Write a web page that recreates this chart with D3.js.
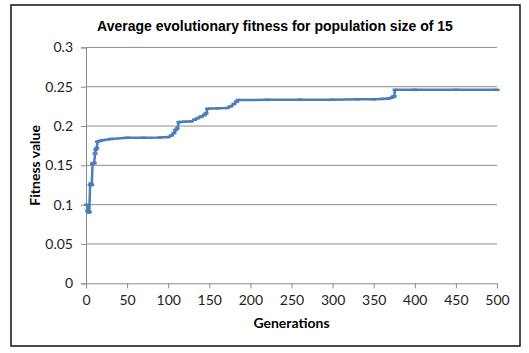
<html>
<head>
<script src="https://d3js.org/d3.v7.min.js"></script>
<style>
  body { margin: 0; background: white; }
  .tick text { font: 14px Lato, sans-serif; fill: #222; }
</style>
</head>
<body>
<svg width="529" height="353"></svg>
<script>
  // values
  var generations = [1, 2, 3, 4, 5, 6, 7, 8, 9, 10, 11, 12, 13, 14, 16, 20, 30, 50, 70, 90,
    100, 104, 107, 109, 111, 113, 120, 128, 132, 136, 140, 144, 146, 148, 160, 172, 176, 180,
    183, 185, 220, 260, 300, 330, 350, 360, 368, 372, 374, 375, 376, 400, 450, 500];
  var fitness = [0.100, 0.092, 0.090, 0.091, 0.125, 0.127, 0.125, 0.152, 0.153, 0.153, 0.165,
    0.170, 0.172, 0.180, 0.181, 0.182, 0.1835, 0.185, 0.185, 0.1855,
    0.186, 0.188, 0.191, 0.195, 0.197, 0.205, 0.2055, 0.206, 0.208, 0.210, 0.212, 0.214, 0.216,
    0.222, 0.2225, 0.223, 0.225, 0.228, 0.231, 0.233, 0.2333, 0.2335, 0.2335, 0.234, 0.234,
    0.2345, 0.235, 0.236, 0.2375, 0.238, 0.246, 0.246, 0.246, 0.246];
  var xTicks = [0, 50, 100, 150, 200, 250, 300, 350, 400, 450, 500];
  var yTicks = [0, 0.05, 0.1, 0.15, 0.2, 0.25, 0.3];

  var svg = d3.select("svg");
  var plotL = 86, plotR = 497, plotT = 47.4, plotB = 283.3;

  var xs = d3.scaleLinear().domain([0, 500]).range([plotL, plotR]);
  var ys = d3.scaleLinear().domain([0, 0.3]).range([plotB, plotT]);

  // outer frame
  svg.append("rect")
    .attr("x", 11).attr("y", 5).attr("width", 509).attr("height", 341)
    .attr("fill", "white").attr("stroke", "#111").attr("stroke-width", 1.5);

  // gridlines
  svg.append("g").selectAll("line").data(yTicks.slice(1)).enter()
    .append("line")
    .attr("x1", plotL).attr("x2", plotR)
    .attr("y1", d => ys(d)).attr("y2", d => ys(d))
    .attr("stroke", "#8c8c8c").attr("stroke-width", 1);

  // axes
  var yAxis = svg.append("g").attr("transform", "translate(" + plotL + ",0)")
    .call(d3.axisLeft(ys).tickValues(yTicks).tickSize(5).tickPadding(8)
      .tickFormat(d => String(+d.toFixed(2))));
  var xAxis = svg.append("g").attr("transform", "translate(0," + plotB + ")")
    .call(d3.axisBottom(xs).tickValues(xTicks).tickSize(5).tickPadding(7));
  [xAxis, yAxis].forEach(function (a) {
    a.select(".domain").attr("stroke", "#8c8c8c");
    a.selectAll(".tick line").attr("stroke", "#8c8c8c");
  });

  // series
  var pts = generations.map((g, i) => [g, fitness[i]]);
  svg.append("path")
    .datum(pts)
    .attr("fill", "none")
    .attr("stroke", "#4a7ebb")
    .attr("stroke-width", 2.5)
    .attr("stroke-linejoin", "round")
    .attr("d", d3.line().x(d => xs(d[0])).y(d => ys(d[1])));

  svg.append("g").selectAll("rect").data(pts).enter()
    .append("rect")
    .attr("x", d => xs(d[0]) - 2.5).attr("y", d => ys(d[1]) - 1.25)
    .attr("width", 5).attr("height", 2.5)
    .attr("fill", "#4a7ebb");

  // titles
  svg.append("text")
    .attr("x", 275).attr("y", 31)
    .attr("text-anchor", "middle")
    .style("font", "bold 14px 'Liberation Sans', Arial, sans-serif")
    .text("Average evolutionary fitness for population size of 15");

  svg.append("text")
    .attr("x", (plotL + plotR) / 2).attr("y", 328)
    .attr("text-anchor", "middle")
    .style("font", "bold 14px Lato, sans-serif")
    .text("Generations");

  svg.append("text")
    .attr("transform", "translate(40," + ((plotT + plotB) / 2) + ") rotate(-90)")
    .attr("text-anchor", "middle")
    .style("font", "bold 14px Lato, sans-serif")
    .text("Fitness value");
</script>
</body>
</html>
